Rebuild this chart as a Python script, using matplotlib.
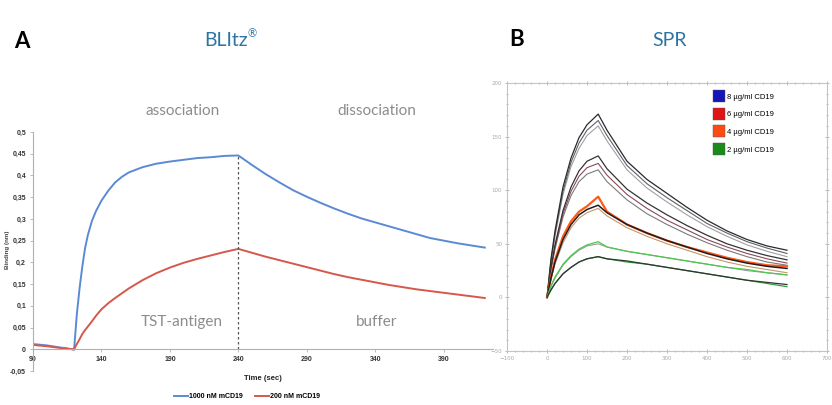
import matplotlib
matplotlib.use("Agg")
from matplotlib import pyplot as plt
from matplotlib.lines import Line2D
import numpy as np

# ---- panel A (BLItz) data ----
time_s = [90, 100, 110, 115, 120, 122, 124, 126, 128, 130, 133, 136, 140, 145, 150,
          155, 160, 170, 180, 190, 200, 210, 220, 230, 240, 250, 260, 270, 280, 290,
          300, 310, 320, 330, 340, 350, 360, 370, 380, 390, 400, 410, 420]
blue_1000nM = [0.012, 0.009, 0.004, 0.002, -0.001, 0.080, 0.140, 0.190, 0.232, 0.262,
               0.295, 0.318, 0.342, 0.365, 0.384, 0.397, 0.407, 0.419, 0.427, 0.432,
               0.436, 0.440, 0.442, 0.445, 0.446, 0.424, 0.403, 0.384, 0.366, 0.351,
               0.337, 0.324, 0.312, 0.301, 0.292, 0.283, 0.274, 0.265, 0.256, 0.250,
               0.244, 0.239, 0.234]
red_200nM = [0.010, 0.007, 0.003, 0.001, 0.000, 0.012, 0.023, 0.035, 0.044, 0.052,
             0.064, 0.077, 0.092, 0.106, 0.118, 0.129, 0.140, 0.159, 0.175, 0.188,
             0.199, 0.208, 0.216, 0.224, 0.231, 0.222, 0.213, 0.205, 0.197, 0.189,
             0.181, 0.173, 0.166, 0.160, 0.154, 0.148, 0.143, 0.138, 0.134, 0.130,
             0.126, 0.122, 0.118]
switch_time = 240
a_xticks = [90, 140, 190, 240, 290, 340, 390]
a_yticks = [-0.05, 0, 0.05, 0.1, 0.15, 0.2, 0.25, 0.3, 0.35, 0.4, 0.45, 0.5]

# ---- panel B (SPR) data ----
t_spr = [0, 10, 20, 40, 60, 80, 100, 128, 150, 200, 250, 300, 350, 400, 450, 500, 550, 600]
g8a = [0, 36, 62, 103, 130, 149, 161, 171, 156, 127, 110, 97, 84, 72, 62, 54, 48, 44]
g8b = [0, 34, 59, 99, 126, 144, 156, 165, 151, 123, 106, 93, 81, 69, 60, 52, 46, 41]
g8c = [0, 33, 57, 96, 122, 139, 151, 160, 146, 119, 102, 89, 77, 66, 57, 49, 43, 38]
g6a = [0, 28, 49, 81, 103, 118, 127, 132, 120, 101, 88, 77, 67, 58, 50, 44, 39, 35]
g6b = [0, 27, 47, 78, 99, 113, 121, 125, 114, 96, 83, 72, 63, 54, 47, 41, 36, 32]
g6c = [0, 26, 45, 75, 95, 108, 115, 119, 108, 91, 78, 68, 59, 51, 44, 38, 33, 30]
g4_orange = [0, 19, 35, 57, 71, 80, 85, 94, 80, 68, 60, 53, 47, 42, 37, 33, 30, 29]
g4_fit = [0, 18, 33, 54, 68, 77, 82, 86, 79, 68, 60, 53, 47, 41, 36, 32, 29, 27]
g4_b = [0, 17, 31, 51, 65, 74, 79, 83, 76, 65, 57, 50, 44, 38, 33, 29, 26, 23]
g2_up = [0, 11, 19, 31, 39, 45, 49, 52, 47, 43, 40, 37, 34, 31, 28, 26, 23, 21]
g2_up_fit = [0, 10, 18, 30, 38, 44, 48, 50, 47, 43, 40, 37, 34, 31, 28, 25, 23, 21]
g2_lo = [0, 7, 13, 22, 28, 33, 36, 38, 36, 33, 31, 28, 25, 22, 19, 16, 13, 10]
g2_lo_fit = [0, 7, 13, 22, 28, 33, 36, 38, 36, 34, 31, 28, 25, 22, 19, 16, 14, 12]
spr_labels = ["8 µg/ml CD19", "6 µg/ml CD19", "4 µg/ml CD19", "2 µg/ml CD19"]
spr_colors = ["#1616b8", "#e01414", "#ff4a16", "#1a8a1a"]

fig = plt.figure(figsize=(8.32, 4.05), dpi=100)

# ================= panel A =================
ax = fig.add_axes([33 / 832, 1 - 371 / 405, 460 / 832, 239 / 405])
ax.plot(time_s, blue_1000nM, color="#5b8ad4", lw=1.4, label="1000 nM mCD19")
ax.plot(time_s, red_200nM, color="#d6574b", lw=1.4, label="200 nM mCD19")
ax.vlines(switch_time, 0, blue_1000nM[time_s.index(switch_time)],
          colors="#555555", linestyles=(0, (2, 2)), lw=0.9)
ax.set_xlim(90, 426)
ax.set_ylim(-0.05, 0.5)
for s in ["top", "right"]:
    ax.spines[s].set_visible(False)
ax.spines["left"].set_color("#b0b0b0")
ax.spines["bottom"].set_color("#b0b0b0")
ax.spines["bottom"].set_position(("data", 0))
ax.set_xticks(a_xticks)
ax.set_yticks(a_yticks)
ax.set_yticklabels([("%g" % v).replace(".", ",") for v in a_yticks])
ax.tick_params(axis="both", length=2, width=0.6, color="#b0b0b0", labelsize=5,
               labelcolor="#333333", pad=3)
for lab in ax.get_xticklabels() + ax.get_yticklabels():
    lab.set_fontweight("bold")
    lab.set_family("Liberation Sans")
fig.text(263 / 832, 1 - 378 / 405, "Time (sec)", ha="center", va="center",
         fontsize=5.5, fontweight="bold", family="Liberation Sans", color="#222222")
fig.text(8 / 832, 1 - 250 / 405, "Binding (nm)", ha="center", va="center", rotation=90,
         fontsize=4.5, fontweight="bold", family="Liberation Sans", color="#444444")
ax.legend(loc="center", bbox_to_anchor=(247 / 832, 1 - 397 / 405),
          bbox_transform=fig.transFigure, ncol=2, frameon=False,
          handlelength=2.0, handletextpad=0.1, columnspacing=1.8,
          prop={"family": "Liberation Sans", "weight": "bold", "size": 5})

grey = "#8c8c8c"
fig.text(183 / 832, 1 - 111 / 405, "association", ha="center", va="center",
         fontsize=11, family="Lato", color=grey)
fig.text(377 / 832, 1 - 111 / 405, "dissociation", ha="center", va="center",
         fontsize=11, family="Lato", color=grey)
fig.text(182 / 832, 1 - 322 / 405, "TST-antigen", ha="center", va="center",
         fontsize=11, family="Lato", color=grey)
fig.text(377 / 832, 1 - 322 / 405, "buffer", ha="center", va="center",
         fontsize=11, family="Lato", color=grey)

# titles
fig.text(22 / 832, 1 - 42 / 405, "A", ha="center", va="center", fontsize=16,
         fontweight="bold", family="Lato", color="black")
fig.text(248 / 832, 1 - 40 / 405, "BLItz", ha="right", va="center", fontsize=14,
         family="Lato", color="#2e74a3")
fig.text(248 / 832, 1 - 34 / 405, "®", ha="left", va="center", fontsize=8,
         family="Lato", color="#2e74a3")
fig.text(517 / 832, 1 - 40 / 405, "B", ha="center", va="center", fontsize=16,
         fontweight="bold", family="Lato", color="black")
fig.text(670 / 832, 1 - 40 / 405, "SPR", ha="center", va="center", fontsize=14,
         family="Lato", color="#2e74a3")

# ================= panel B =================
bx = fig.add_axes([507 / 832, 1 - 351 / 405, 320 / 832, 268 / 405])
for vals, col, lw in [(g8c, "#a0a0a0", 0.8), (g8b, "#5e5e6e", 0.8), (g8a, "#2a2a2a", 0.9),
                      (g6c, "#7a7a7a", 0.8), (g6b, "#8a4a58", 0.8), (g6a, "#333333", 0.9),
                      (g4_b, "#c8946a", 0.8), (g4_orange, "#ff5a18", 1.6),
                      (g4_fit, "#1e1e1e", 1.1),
                      (g2_up_fit, "#999999", 0.8), (g2_up, "#4cc84c", 0.9),
                      (g2_lo, "#2fa03a", 0.9), (g2_lo_fit, "#333333", 0.9)]:
    bx.plot(t_spr, vals, color=col, lw=lw)
bx.set_xlim(-100, 700)
bx.set_ylim(-50, 200)
bx.set_xticks(np.arange(-100, 701, 100))
bx.set_yticks(np.arange(-50, 201, 50))
bx.set_xticks(np.arange(-100, 701, 20), minor=True)
bx.set_yticks(np.arange(-50, 201, 10), minor=True)
for s in bx.spines.values():
    s.set_color("#c4c4c4")
    s.set_linewidth(0.8)
bx.tick_params(which="both", direction="inout", top=True, right=True, color="#b8b8b8",
               width=0.7, labelsize=4, labelcolor="#a8a8a8", pad=2)
bx.tick_params(which="major", length=3)
bx.tick_params(which="minor", length=2)
handles = [Line2D([], [], marker="s", ls="none", markersize=8, markerfacecolor=c,
                  markeredgecolor="#555555", markeredgewidth=0.3) for c in spr_colors]
bx.legend(handles, spr_labels, loc="upper left", bbox_to_anchor=(0.652, 0.962),
          frameon=False, borderaxespad=0, borderpad=0, handlelength=1.0,
          handletextpad=0.5, labelspacing=1.35,
          prop={"family": "Liberation Sans", "size": 5.5})

fig.savefig("out.png", dpi=100, facecolor="white")
